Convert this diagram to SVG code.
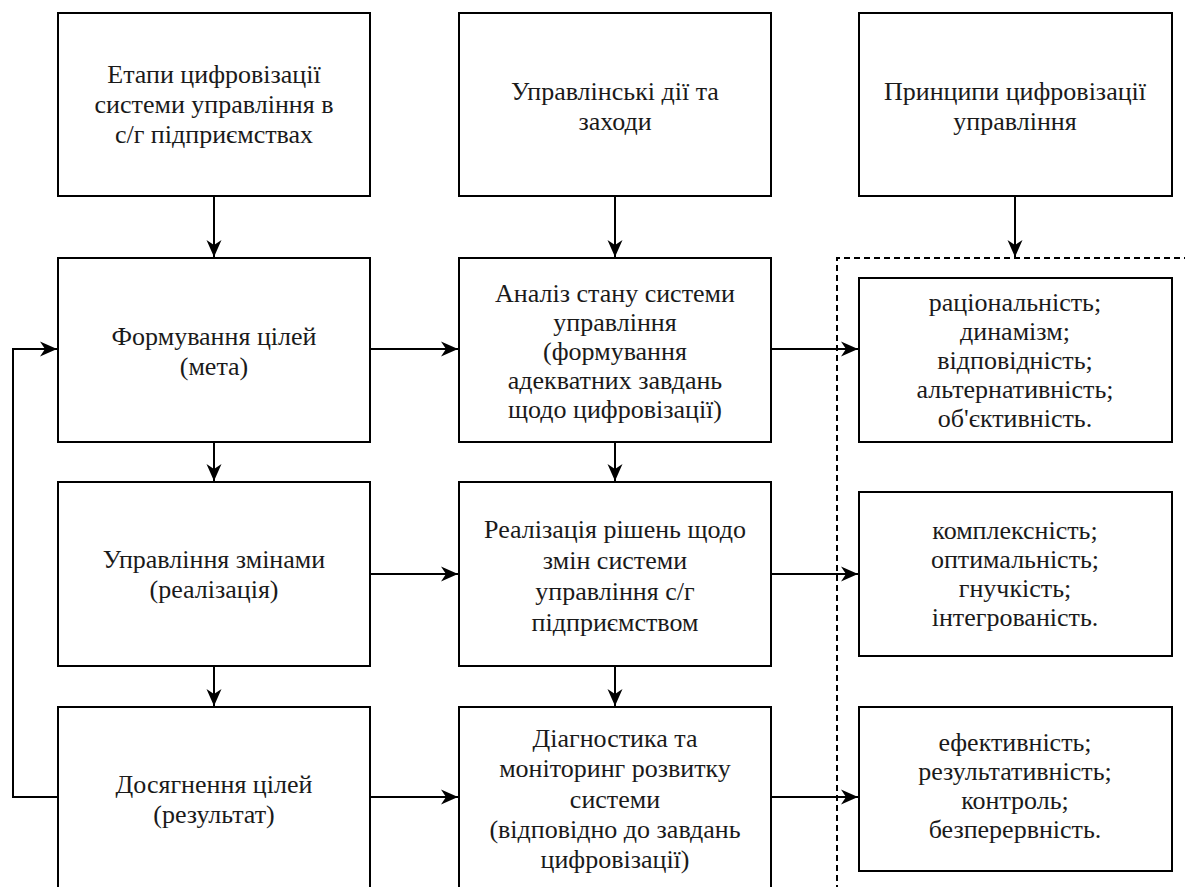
<svg xmlns="http://www.w3.org/2000/svg" width="1185" height="887" viewBox="0 0 1185 887">
<style>
.box{fill:#fff;stroke:#000;stroke-width:2}
.c{fill:none;stroke:#000;stroke-width:2}
.d{fill:none;stroke:#000;stroke-width:2;stroke-dasharray:6 4}
.t{font-family:'Liberation Serif','Times New Roman',serif;font-size:26px;fill:#1a1a1a;text-anchor:middle}
</style>
<defs>
<marker id="a" markerUnits="userSpaceOnUse" markerWidth="18" markerHeight="16" refX="17" refY="8" orient="auto">
<path d="M0,0.5 L17,8 L0,15.5 L5,8 z" fill="#000"/>
</marker>
</defs>
<rect width="1185" height="887" fill="#fff"/>
<g id="connectors">
<line class="c" x1="214" y1="196" x2="214" y2="257" marker-end="url(#a)"/>
<line class="c" x1="615" y1="196" x2="615" y2="257" marker-end="url(#a)"/>
<line class="c" x1="1015" y1="196" x2="1015" y2="257" marker-end="url(#a)"/>
<line class="c" x1="214" y1="442" x2="214" y2="481" marker-end="url(#a)"/>
<line class="c" x1="615" y1="442" x2="615" y2="481" marker-end="url(#a)"/>
<line class="c" x1="214" y1="666" x2="214" y2="706" marker-end="url(#a)"/>
<line class="c" x1="615" y1="666" x2="615" y2="706" marker-end="url(#a)"/>
<line class="c" x1="370" y1="349" x2="458" y2="349" marker-end="url(#a)"/>
<line class="c" x1="370" y1="574" x2="458" y2="574" marker-end="url(#a)"/>
<line class="c" x1="370" y1="797" x2="458" y2="797" marker-end="url(#a)"/>
<line class="c" x1="771" y1="349" x2="858" y2="349" marker-end="url(#a)"/>
<line class="c" x1="771" y1="574" x2="858" y2="574" marker-end="url(#a)"/>
<line class="c" x1="771" y1="797" x2="858" y2="797" marker-end="url(#a)"/>
<polyline class="c" points="58,797 13,797 13,349 57,349" marker-end="url(#a)"/>
<polyline class="d" points="1190,258 837,258 837,890"/>
</g>
<g id="n1"><rect class="box" x="58" y="13" width="312" height="183"/>
<text class="t" x="214" y="83">Етапи цифровізації</text><text class="t" x="214" y="113">системи управління в</text><text class="t" x="214" y="143">с/г підприємствах</text></g>
<g id="n2"><rect class="box" x="459" y="13" width="312" height="183"/>
<text class="t" x="615" y="100">Управлінські дії та</text><text class="t" x="615" y="130">заходи</text></g>
<g id="n3"><rect class="box" x="859" y="13" width="313" height="183"/>
<text class="t" x="1015" y="100">Принципи цифровізації</text><text class="t" x="1015" y="130">управління</text></g>
<g id="n4"><rect class="box" x="58" y="258" width="312" height="184"/>
<text class="t" x="214" y="345">Формування цілей</text><text class="t" x="214" y="375">(мета)</text></g>
<g id="n5"><rect class="box" x="459" y="258" width="312" height="184"/>
<text class="t" x="615" y="302">Аналіз стану системи</text><text class="t" x="615" y="331">управління</text><text class="t" x="615" y="360">(формування</text><text class="t" x="615" y="389">адекватних завдань</text><text class="t" x="615" y="418">щодо цифровізації)</text></g>
<g id="n6"><rect class="box" x="859" y="278" width="313" height="164"/>
<text class="t" x="1015" y="311">раціональність;</text><text class="t" x="1015" y="340">динамізм;</text><text class="t" x="1015" y="369">відповідність;</text><text class="t" x="1015" y="398">альтернативність;</text><text class="t" x="1015" y="427">об'єктивність.</text></g>
<g id="n7"><rect class="box" x="58" y="482" width="312" height="184"/>
<text class="t" x="214" y="568">Управління змінами</text><text class="t" x="214" y="598">(реалізація)</text></g>
<g id="n8"><rect class="box" x="459" y="482" width="312" height="184"/>
<text class="t" x="615" y="538">Реалізація рішень щодо</text><text class="t" x="615" y="569">змін системи</text><text class="t" x="615" y="600">управління с/г</text><text class="t" x="615" y="631">підприємством</text></g>
<g id="n9"><rect class="box" x="859" y="492" width="313" height="164"/>
<text class="t" x="1015" y="539">комплексність;</text><text class="t" x="1015" y="568">оптимальність;</text><text class="t" x="1015" y="597">гнучкість;</text><text class="t" x="1015" y="626">інтегрованість.</text></g>
<g id="n10"><rect class="box" x="58" y="707" width="312" height="200"/>
<text class="t" x="214" y="793">Досягнення цілей</text><text class="t" x="214" y="823">(результат)</text></g>
<g id="n11"><rect class="box" x="459" y="707" width="312" height="200"/>
<text class="t" x="615" y="747">Діагностика та</text><text class="t" x="615" y="777">моніторинг розвитку</text><text class="t" x="615" y="808">системи</text><text class="t" x="615" y="838">(відповідно до завдань</text><text class="t" x="615" y="868">цифровізації)</text></g>
<g id="n12"><rect class="box" x="859" y="707" width="313" height="164"/>
<text class="t" x="1015" y="751">ефективність;</text><text class="t" x="1015" y="780">результативність;</text><text class="t" x="1015" y="809">контроль;</text><text class="t" x="1015" y="838">безперервність.</text></g>
</svg>
